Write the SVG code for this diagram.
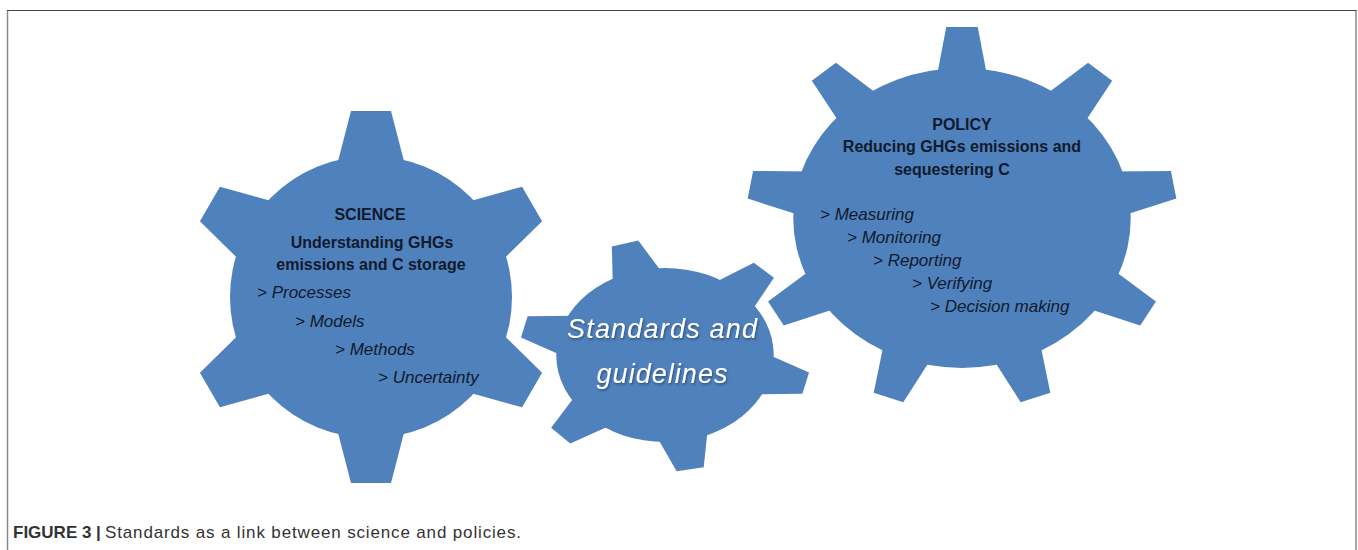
<svg xmlns="http://www.w3.org/2000/svg" xmlns:xlink="http://www.w3.org/1999/xlink" width="1358" height="550" viewBox="0 0 1358 550">
<style>
.gear{fill:#4f81bd}
.hd{font-family:"Liberation Sans",Arial,sans-serif;font-weight:bold;font-size:16px;fill:#111a2c;text-anchor:middle}
.it{font-family:"Liberation Sans",Arial,sans-serif;font-style:italic;font-size:17px;fill:#111a2c}
.std{font-family:"Liberation Sans",Arial,sans-serif;font-style:italic;font-size:27px;fill:#ffffff;text-anchor:middle}
.cap{font-family:"Liberation Sans",Arial,sans-serif;font-size:17px;fill:#333333}
.frame{fill:none;stroke:#8a8a8a;stroke-width:1.5}
</style>
<defs>
<polygon id="toothL" points="-20,-186 20,-186 35,-128 -35,-128"/>
<polygon id="toothM" points="-11,-116 11,-116 21,-78 -21,-78"/>
<polygon id="toothR" points="-14,-191 14,-191 23,-138 -23,-138"/>
<filter id="sh" x="-10%" y="-30%" width="120%" height="160%">
<feDropShadow dx="1" dy="1.5" stdDeviation="1" flood-color="#1a2a40" flood-opacity="0.6"/>
</filter>
</defs>
<rect width="1358" height="550" fill="#ffffff"/>
<g id="frame">
<line x1="7.5" y1="10.5" x2="7.5" y2="550" class="frame"/>
<line x1="1356" y1="10.5" x2="1356" y2="550" class="frame"/>
<line x1="7" y1="10.5" x2="1356.5" y2="10.5" stroke="#444444" stroke-width="1.2"/>
</g>
<g id="connectors"></g>
<g id="science">
<g class="gear" transform="translate(371,297)">
<circle r="141"/>
<use xlink:href="#toothL"/>
<use xlink:href="#toothL" transform="rotate(60)"/>
<use xlink:href="#toothL" transform="rotate(120)"/>
<use xlink:href="#toothL" transform="rotate(180)"/>
<use xlink:href="#toothL" transform="rotate(240)"/>
<use xlink:href="#toothL" transform="rotate(300)"/>
</g>
<text class="hd" x="370" y="220">SCIENCE</text>
<text class="hd" x="372" y="248">Understanding GHGs</text>
<text class="hd" x="371" y="270">emissions and C storage</text>
<text class="it" x="257" y="298">&gt; Processes</text>
<text class="it" x="295" y="327">&gt; Models</text>
<text class="it" x="335" y="355">&gt; Methods</text>
<text class="it" x="378" y="383">&gt; Uncertainty</text>
</g>
<g id="standards">
<g class="gear" transform="translate(665,355) scale(1.25,1)">
<circle r="87"/>
<use xlink:href="#toothM" transform="rotate(-16)"/>
<use xlink:href="#toothM" transform="rotate(43)"/>
<use xlink:href="#toothM" transform="rotate(104)"/>
<use xlink:href="#toothM" transform="rotate(170)"/>
<use xlink:href="#toothM" transform="rotate(226)"/>
<use xlink:href="#toothM" transform="rotate(284)"/>
</g>
<g filter="url(#sh)">
<text class="std" x="662" y="338" textLength="190" lengthAdjust="spacing">Standards and</text>
<text class="std" x="662" y="383" textLength="131" lengthAdjust="spacing">guidelines</text>
</g>
</g>
<g id="policy">
<g class="gear" transform="translate(962,218) scale(1.125,1)">
<circle r="150"/>
<use xlink:href="#toothR"/>
<use xlink:href="#toothR" transform="rotate(40)"/>
<use xlink:href="#toothR" transform="rotate(80)"/>
<use xlink:href="#toothR" transform="rotate(120)"/>
<use xlink:href="#toothR" transform="rotate(160)"/>
<use xlink:href="#toothR" transform="rotate(200)"/>
<use xlink:href="#toothR" transform="rotate(240)"/>
<use xlink:href="#toothR" transform="rotate(280)"/>
<use xlink:href="#toothR" transform="rotate(320)"/>
</g>
<text class="hd" x="962" y="130">POLICY</text>
<text class="hd" x="962" y="152">Reducing GHGs emissions and</text>
<text class="hd" x="952" y="175">sequestering C</text>
<text class="it" x="820" y="220">&gt; Measuring</text>
<text class="it" x="847" y="243">&gt; Monitoring</text>
<text class="it" x="873" y="266">&gt; Reporting</text>
<text class="it" x="912" y="289">&gt; Verifying</text>
<text class="it" x="930" y="312">&gt; Decision making</text>
</g>
<g id="caption">
<text class="cap" x="13" y="538" font-size="16" font-weight="bold" fill="#222222">FIGURE 3 |</text>
<text class="cap" x="105" y="538" textLength="416" lengthAdjust="spacing">Standards as a link between science and policies.</text>
</g>
</svg>
